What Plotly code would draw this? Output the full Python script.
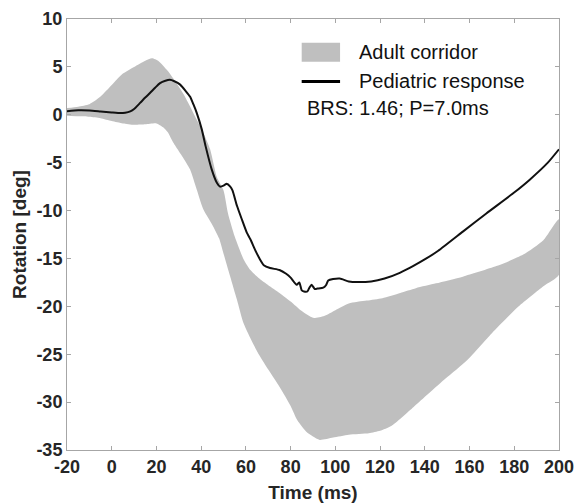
import plotly.graph_objects as go

# Adult corridor upper boundary
upper_x = [-20, -15, -10, -5, 0, 5, 10, 15, 18, 21, 25, 29, 32, 35, 38, 41, 44, 47, 50, 52, 55, 59, 62, 66, 70, 75, 80, 85, 90, 95, 100, 106, 114, 121, 129, 136, 145, 157, 172, 184, 193, 200]
upper_y = [0.7, 0.85, 1.1, 1.9, 3.1, 4.3, 5.0, 5.65, 5.9, 5.6, 4.6, 3.3, 2.2, 0.9, -0.5, -1.9, -3.6, -6.5, -7.9, -10.3, -12.7, -15.1, -16.2, -17.1, -17.8, -18.6, -19.5, -20.5, -21.2, -21.0, -20.4, -19.7, -19.4, -19.15, -18.6, -18.1, -17.6, -16.9, -15.8, -14.6, -13.1, -10.9]

# Adult corridor lower boundary
lower_x = [-20, -15, -10, -5, 0, 5, 10, 15, 20, 23, 25, 27.5, 30, 32, 35, 38, 41, 45, 48, 50, 53, 56, 59, 63, 66, 70, 75, 80, 83, 87, 90, 93, 99, 106, 115, 120, 125, 135, 147, 159, 170, 182, 193, 200]
lower_y = [-0.1, -0.15, -0.2, -0.35, -0.65, -0.9, -1.05, -1.0, -0.9, -1.3, -1.8, -2.9, -3.8, -4.5, -5.7, -7.8, -9.9, -11.5, -12.9, -14.5, -16.9, -19.3, -21.8, -23.8, -25.1, -26.6, -28.4, -30.4, -31.9, -33.1, -33.6, -33.95, -33.7, -33.4, -33.25, -33.0, -32.5, -30.5, -28.0, -25.6, -22.8, -20.0, -17.9, -16.7]

# Pediatric response
ped_x = [-20, -15, -10, -5, 0, 4, 6, 8.3, 10, 12.7, 15, 17.2, 19.5, 21.6, 24, 26, 28, 30.6, 33, 35, 36.5, 38, 40.3, 42, 44.7, 47, 48.4, 50, 51.4, 53, 54, 56, 58, 60.4, 62, 64.1, 66.3, 68, 70.8, 75, 78, 80, 82.7, 83.9, 84.9, 86, 87.5, 88.5, 89.4, 90.8, 92, 94.6, 95.8, 96.8, 99, 102, 106, 110, 116, 122, 128.8, 134.7, 140.7, 146, 157, 167.5, 179.5, 186.8, 195, 200]
ped_y = [0.38, 0.47, 0.45, 0.35, 0.25, 0.18, 0.22, 0.36, 0.6, 1.24, 1.8, 2.3, 2.85, 3.3, 3.55, 3.65, 3.5, 3.15, 2.5, 1.9, 1.1, 0.2, -1.55, -3.3, -5.7, -7.1, -7.5, -7.4, -7.2, -7.5, -7.9, -9.5, -10.8, -12.3, -13.0, -14.1, -15.1, -15.7, -16.0, -16.2, -16.6, -17.0, -17.75, -17.5, -18.3, -18.45, -18.45, -18.0, -17.75, -18.2, -18.15, -18.05, -17.8, -17.3, -17.15, -17.1, -17.4, -17.47, -17.4, -17.1, -16.5, -15.8, -15.0, -14.2, -12.2, -10.3, -8.2, -6.8, -5.0, -3.6]

x_ticks = [-20, 0, 20, 40, 60, 80, 100, 120, 140, 160, 180, 200]
y_ticks = [-35, -30, -25, -20, -15, -10, -5, 0, 5, 10]

legend_labels = ["Adult corridor", "Pediatric response"]
note_text = "BRS: 1.46; P=7.0ms"

FILL = "#bfbfbf"
AXC = "#a6a6a6"
TXT = "#262626"
FONT = "Liberation Sans, Arial, sans-serif"

fig = go.Figure()
fig.add_trace(go.Scatter(
    x=upper_x + lower_x[::-1], y=upper_y + lower_y[::-1],
    fill="toself", fillcolor=FILL, mode="lines", line=dict(width=0, color=FILL, shape="spline", smoothing=0.6),
    name=legend_labels[0], showlegend=False, hoverinfo="skip"))
fig.add_trace(go.Scatter(
    x=ped_x, y=ped_y, mode="lines", line=dict(color="#111111", width=2, shape="spline", smoothing=0.5),
    name=legend_labels[1], showlegend=False))

axis_common = dict(showgrid=False, zeroline=False, showline=True, linecolor=AXC, linewidth=1,
                   mirror="ticks", ticks="inside", ticklen=4, tickcolor=AXC, automargin=False,
                   tickfont=dict(family=FONT, size=18, color=TXT, weight="bold"))
fig.update_xaxes(range=[-20, 200], tickvals=x_ticks, ticktext=[str(v) for v in x_ticks],
                 title=dict(text="Time (ms)", font=dict(family=FONT, size=19, color=TXT, weight="bold"), standoff=10),
                 **axis_common)
fig.update_yaxes(range=[-35, 10], tickvals=y_ticks, ticktext=[str(v) for v in y_ticks],
                 title=dict(text="Rotation [deg]", font=dict(family=FONT, size=19, color=TXT, weight="bold"), standoff=4),
                 **axis_common)

# legend (drawn manually to match swatch sizes)
fig.add_shape(type="rect", xref="paper", yref="paper", x0=0.477, x1=0.555, y0=0.901, y1=0.945,
              fillcolor=FILL, line=dict(width=0))
fig.add_shape(type="line", xref="paper", yref="paper", x0=0.477, x1=0.555, y0=0.855, y1=0.855,
              line=dict(color="#000000", width=3))
fig.add_annotation(xref="paper", yref="paper", x=0.589, y=0.923, text=legend_labels[0], showarrow=False,
                   xanchor="left", yanchor="middle", font=dict(family=FONT, size=20, color="#111111"))
fig.add_annotation(xref="paper", yref="paper", x=0.589, y=0.855, text=legend_labels[1], showarrow=False,
                   xanchor="left", yanchor="middle", font=dict(family=FONT, size=20, color="#111111"))
fig.add_annotation(xref="paper", yref="paper", x=0.484, y=0.7935, text=note_text, showarrow=False,
                   xanchor="left", yanchor="middle", font=dict(family=FONT, size=20, color="#111111"))

fig.update_layout(width=575, height=503, margin=dict(l=67, r=16, t=19, b=53),
                  plot_bgcolor="white", paper_bgcolor="white", showlegend=False)
fig.write_html("out.html")
